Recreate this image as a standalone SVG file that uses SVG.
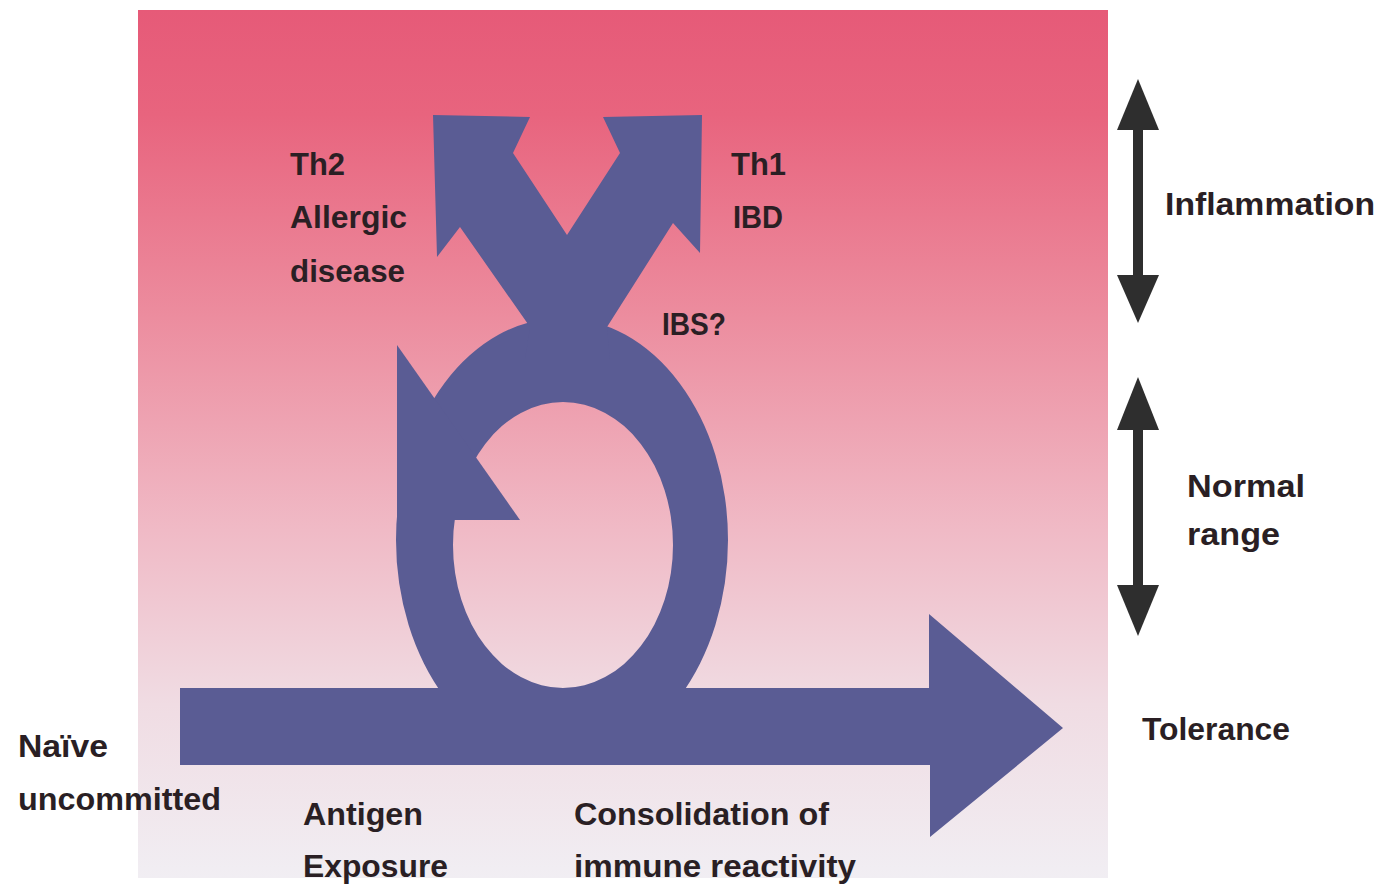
<svg xmlns="http://www.w3.org/2000/svg" width="1379" height="890" viewBox="0 0 1379 890">
<style>
.t{font-family:"Liberation Sans","DejaVu Sans",sans-serif;font-weight:bold;font-size:32px;fill:#2a1f24}
.b{fill:#5a5c94}
.d{fill:#2e2e2e}
</style>
<defs>
<linearGradient id="bg" x1="0" y1="0" x2="0" y2="1">
<stop offset="0" stop-color="#e65a78"/>
<stop offset="0.12" stop-color="#e8647e"/>
<stop offset="0.35" stop-color="#ec8c9e"/>
<stop offset="0.6" stop-color="#f0bac6"/>
<stop offset="0.8" stop-color="#f0dce3"/>
<stop offset="1" stop-color="#f1eef3"/>
</linearGradient>
<clipPath id="ringclip"><rect x="380" y="290" width="380" height="410"/></clipPath>
</defs>
<rect width="1379" height="890" fill="#ffffff"/>
<rect x="138" y="10" width="970" height="868" fill="url(#bg)"/>

<g id="loop">
<path class="b" clip-path="url(#ringclip)" fill-rule="evenodd" d="M396,540 a166,222 0 1,0 332,0 a166,222 0 1,0 -332,0 Z M453,545 a110,143 0 1,0 220,0 a110,143 0 1,0 -220,0 Z"/>
<polygon class="b" points="397,345 520,520 397,520"/>
</g>

<g id="branch-x">
<polygon class="b" points="433,115 530,117 513,153 567,235 620,153 603,117 702,115 700,253 673,223 607,327 610,360 525,360 530,327 460,227 437,257"/>
</g>

<g id="main-arrow">
<polygon class="b" points="180,688 929,688 929,614 1063,728 930,837 930,765 180,765"/>
</g>

<g id="connectors">
<g id="scale-inflammation">
<rect class="d" x="1133" y="120" width="10" height="160"/>
<polygon class="d" points="1138,79 1159,130 1117,130"/>
<polygon class="d" points="1138,323 1159,275 1117,275"/>
</g>
<g id="scale-normal">
<rect class="d" x="1133" y="420" width="10" height="175"/>
<polygon class="d" points="1138,377 1159,430 1117,430"/>
<polygon class="d" points="1138,636 1159,585 1117,585"/>
</g>
</g>

<g id="labels-th2"><text class="t" x="290" y="175" textLength="55" lengthAdjust="spacingAndGlyphs">Th2</text>
<text class="t" x="290" y="228" textLength="117" lengthAdjust="spacingAndGlyphs">Allergic</text>
<text class="t" x="290" y="282" textLength="115" lengthAdjust="spacingAndGlyphs">disease</text></g>
<g id="labels-th1"><text class="t" x="731" y="175" textLength="55" lengthAdjust="spacingAndGlyphs">Th1</text>
<text class="t" x="733" y="228" textLength="50" lengthAdjust="spacingAndGlyphs">IBD</text></g>
<g id="label-ibs"><text class="t" x="662" y="335" textLength="64" lengthAdjust="spacingAndGlyphs">IBS?</text></g>
<g id="label-inflammation"><text class="t" x="1165" y="215" textLength="210" lengthAdjust="spacingAndGlyphs">Inflammation</text></g>
<g id="label-normal"><text class="t" x="1187" y="497" textLength="118" lengthAdjust="spacingAndGlyphs">Normal</text>
<text class="t" x="1187" y="545" textLength="93" lengthAdjust="spacingAndGlyphs">range</text></g>
<g id="label-tolerance"><text class="t" x="1142" y="740" textLength="148" lengthAdjust="spacingAndGlyphs">Tolerance</text></g>
<g id="label-naive"><text class="t" x="18" y="757" textLength="90" lengthAdjust="spacingAndGlyphs">Naïve</text>
<text class="t" x="18" y="810" textLength="203" lengthAdjust="spacingAndGlyphs">uncommitted</text></g>
<g id="label-antigen"><text class="t" x="303" y="825" textLength="120" lengthAdjust="spacingAndGlyphs">Antigen</text>
<text class="t" x="303" y="877" textLength="145" lengthAdjust="spacingAndGlyphs">Exposure</text></g>
<g id="label-consolidation"><text class="t" x="574" y="825" textLength="255" lengthAdjust="spacingAndGlyphs">Consolidation of</text>
<text class="t" x="574" y="877" textLength="282" lengthAdjust="spacingAndGlyphs">immune reactivity</text></g>
</svg>
